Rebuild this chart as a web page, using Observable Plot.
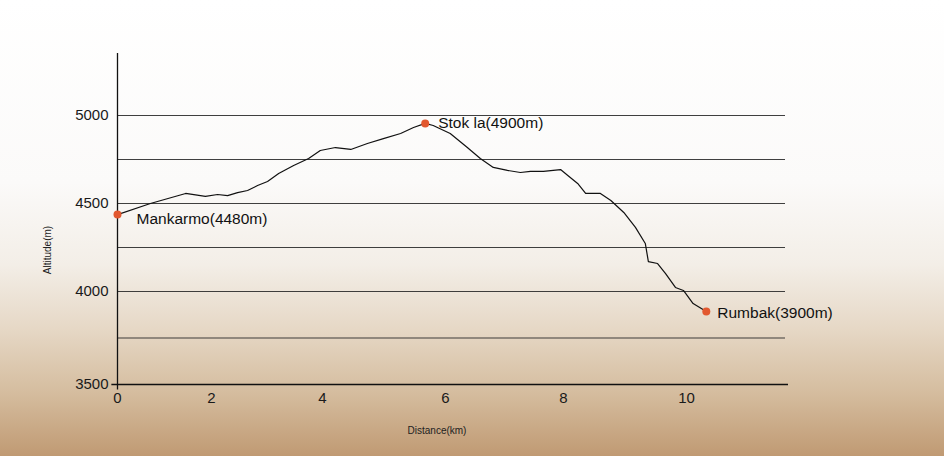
<!DOCTYPE html>
<html>
<head>
<meta charset="utf-8">
<script src="https://cdn.jsdelivr.net/npm/d3@7"></script>
<script src="https://cdn.jsdelivr.net/npm/@observablehq/plot@0.6"></script>
<style>
  html, body { margin: 0; padding: 0; }
  body {
    width: 944px; height: 456px; overflow: hidden;
    background: linear-gradient(to bottom, #ffffff 0%, #fbfaf9 40%, #f3eee7 58%, #e6d8c6 72%, #d5bd9f 86%, #c09a73 100%);
    font-family: "Liberation Sans", Arial, sans-serif;
  }
  #chart svg { background: transparent; display: block; }
</style>
</head>
<body>
<div id="chart"></div>
<script>
// Distance (km) along the trek
const distanceKm = [0, 0.70, 1.45, 1.87, 2.11, 2.29, 2.47, 2.65, 2.83, 3.01, 3.21, 3.48, 3.75, 3.96,
  4.21, 4.46, 4.73, 4.99, 5.27, 5.48, 5.67, 5.80, 6.08, 6.37, 6.59, 6.81, 7.05, 7.27, 7.44, 7.66,
  7.95, 8.07, 8.23, 8.36, 8.60, 8.77, 8.98, 9.17, 9.33, 9.38, 9.53, 9.66, 9.82, 9.95, 10.11, 10.33];
// Altitude (m) at each distance
const altitudeM = [4437, 4500, 4557, 4540, 4551, 4545, 4562, 4574, 4602, 4625, 4670, 4716, 4756, 4801,
  4818, 4807, 4841, 4869, 4898, 4932, 4955, 4943, 4898, 4818, 4756, 4705, 4688, 4676, 4682, 4682,
  4693, 4659, 4614, 4557, 4557, 4517, 4449, 4364, 4273, 4170, 4159, 4102, 4023, 4006, 3935, 3892];

const placeNames = ["Mankarmo(4480m)", "Stok la(4900m)", "Rumbak(3900m)"];
const placeKm = [0, 5.67, 10.33];
const placeAlt = [4437, 4955, 3892];

const xTicks = [0, 2, 4, 6, 8, 10];
const yTicks = [3500, 4000, 4500, 5000];
const gridLevels = [3750, 4000, 4250, 4500, 4750, 5000];

const profile = distanceKm.map((d, i) => ({km: d, alt: altitudeM[i]}));
const places = placeNames.map((n, i) => ({name: n, km: placeKm[i], alt: placeAlt[i]}));

const font = "'Liberation Sans', Arial, Helvetica, sans-serif";
const dotColor = "#e2582f";

const chart = Plot.plot({
  width: 944,
  height: 456,
  marginLeft: 117,
  marginRight: 156,
  marginTop: 53,
  marginBottom: 72,
  style: {background: "transparent", fontFamily: font, color: "#1a1a1a"},
  x: {
    type: "linear",
    domain: [0, 2, 4, 6, 8, 10, 11.7],
    range: [117, 211, 322, 445, 563, 686, 788],
    ticks: xTicks
  },
  y: {
    type: "linear",
    domain: [3500, 4000, 5000, 5350],
    range: [384, 291, 115, 53],
    ticks: yTicks
  },
  marks: [
    Plot.ruleY(gridLevels, {x1: 0, x2: 11.65, stroke: "#2a2a2a", strokeWidth: 1.1, strokeOpacity: 0.9}),
    Plot.ruleY([3500], {x1: -0.12, x2: 11.7, stroke: "#111", strokeWidth: 1.4}),
    Plot.ruleX([0], {y1: 3470, y2: 5350, stroke: "#111", strokeWidth: 1.3}),
    Plot.axisX({ticks: xTicks, tickSize: 0, tickPadding: 8, fontSize: 15, label: null, tickFormat: d => String(d)}),
    Plot.axisY({ticks: yTicks, tickSize: 0, tickPadding: 9, fontSize: 15, label: null, tickFormat: d => String(d)}),
    Plot.text(["Altitude(m)"], {frameAnchor: "left", textAnchor: "middle", lineAnchor: "middle", dx: -70, dy: 31, rotate: -90, fontSize: 10, fill: "#222"}),
    Plot.text(["Distance(km)"], {frameAnchor: "bottom", textAnchor: "middle", lineAnchor: "middle", dx: -16, dy: 46, fontSize: 10, fill: "#222"}),
    Plot.line(profile, {x: "km", y: "alt", stroke: "#111", strokeWidth: 1.2}),
    Plot.dot(places, {x: "km", y: "alt", r: 4, fill: dotColor, stroke: "none"}),
    Plot.text(places.slice(0, 1), {x: "km", y: "alt", text: "name", textAnchor: "start", dx: 19, dy: 4, fontSize: 15.5, fill: "#111"}),
    Plot.text(places.slice(1, 2), {x: "km", y: "alt", text: "name", textAnchor: "start", dx: 13, dy: 0, fontSize: 15.5, fill: "#111"}),
    Plot.text(places.slice(2, 3), {x: "km", y: "alt", text: "name", textAnchor: "start", dx: 11, dy: 1, fontSize: 15.5, fill: "#111"})
  ]
});
document.getElementById("chart").appendChild(chart);
</script>
</body>
</html>
